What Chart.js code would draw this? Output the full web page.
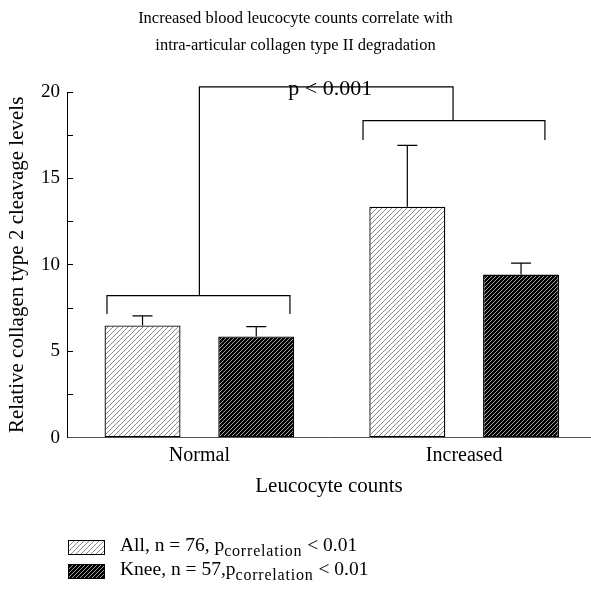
<!DOCTYPE html>
<html>
<head>
<meta charset="utf-8">
<script src="https://cdn.jsdelivr.net/npm/chart.js@4"></script>
<style>
body{margin:0;background:#fff;}
#wrap{position:relative;width:591px;height:592px;}
#legend{position:absolute;left:68px;top:535px;font-family:"Liberation Serif",serif;font-size:19.5px;color:#000;}
.row{display:flex;align-items:center;height:24px;white-space:nowrap;}
.row canvas{border:1px solid #000;margin-right:15px;}
sub{font-size:16px;letter-spacing:0.8px;}
</style>
</head>
<body>
<div id="wrap">
<canvas id="chart" width="591" height="592"></canvas>
<div id="legend">
  <div class="row"><canvas id="swAll" width="35" height="13"></canvas><span>All, n = 76, p<sub>correlation</sub> &lt; 0.01</span></div>
  <div class="row"><canvas id="swKnee" width="35" height="13"></canvas><span>Knee, n = 57,p<sub>correlation</sub> &lt; 0.01</span></div>
</div>
</div>
<script>
window.addEventListener("load", () => {

/* ========= DATA ========= */

const groups = ["Normal", "Increased"];
const allMeans = [6.5, 13.36];
const allErr = [0.55, 3.55];
const kneeMeans = [5.86, 9.44];
const kneeErr = [0.57, 0.66];

// significance brackets, [x, y] in axis units
const bracketNormal = [[-0.349, 7.16], [-0.349, 8.22], [0.342, 8.22], [0.342, 7.16]];
const bracketIncreased = [[0.618, 17.23], [0.618, 18.35], [1.305, 18.35], [1.305, 17.23]];
const bracketLink = [[0, 8.22], [0, 20.3], [0.958, 20.3], [0.958, 18.35]];
const pText = "p < 0.001";
const pPos = [0.494, 20.17];

const FONT = "'Liberation Serif', serif";

/* ========= PATTERNS ========= */

function hatch(bg, fg, size){
const c = document.createElement("canvas");
c.width = c.height = size;
const g = c.getContext("2d");
g.fillStyle = bg;
g.fillRect(0, 0, size, size);
g.strokeStyle = fg;
g.lineWidth = 1;
g.beginPath();
g.moveTo(0, size); g.lineTo(size, 0);
g.moveTo(-1, 1); g.lineTo(1, -1);
g.moveTo(size - 1, size + 1); g.lineTo(size + 1, size - 1);
g.stroke();
return g.createPattern(c, "repeat");
}

const lightHatch = hatch("#fff", "#8a8a8a", 5);
const darkHatch = hatch("#000", "#a0a0a0", 4);

function swatch(id, pat){
const c = document.getElementById(id).getContext("2d");
c.fillStyle = pat;
c.fillRect(0, 0, 35, 13);
}
swatch("swAll", hatch("#fff", "#8a8a8a", 5));
swatch("swKnee", hatch("#000", "#a0a0a0", 4));

/* ========= PLUGINS ========= */

const errorBars = {
id: "errorBars",
afterDatasetsDraw(chart){
const ctx = chart.ctx, y = chart.scales.y;
[[0, allMeans, allErr], [1, kneeMeans, kneeErr]].forEach(([di, m, e]) => {
chart.getDatasetMeta(di).data.forEach((bar, i) => {
const top = y.getPixelForValue(m[i] + e[i]);
ctx.save();
ctx.strokeStyle = "#000";
ctx.lineWidth = 1.2;
ctx.beginPath();
ctx.moveTo(bar.x, bar.y);
ctx.lineTo(bar.x, top);
ctx.moveTo(bar.x - 10, top);
ctx.lineTo(bar.x + 10, top);
ctx.stroke();
ctx.restore();
});
});
}
};

const pLabel = {
id: "pLabel",
afterDatasetsDraw(chart){
const ctx = chart.ctx;
ctx.save();
ctx.font = "22px " + FONT;
ctx.fillStyle = "#000";
ctx.textAlign = "center";
ctx.textBaseline = "middle";
ctx.fillText(pText, chart.scales.x.getPixelForValue(pPos[0]), chart.scales.y.getPixelForValue(pPos[1]));
ctx.restore();
}
};

/* ========= CHART ========= */

const bracket = pts => ({
type: "line",
data: pts.map(p => ({x: p[0], y: p[1]})),
borderColor: "#000",
borderWidth: 1.2,
pointRadius: 0,
tension: 0,
fill: false,
clip: false
});

new Chart(document.getElementById("chart"), {
type: "bar",
data: {
datasets: [
{
data: allMeans.map((v, i) => ({x: i, y: v})),
backgroundColor: lightHatch,
borderColor: "#000",
borderWidth: 1.3,
borderSkipped: false,
categoryPercentage: 0.859,
barPercentage: 0.668
},
{
data: kneeMeans.map((v, i) => ({x: i, y: v})),
backgroundColor: darkHatch,
borderColor: "#000",
borderWidth: 1.3,
borderSkipped: false,
categoryPercentage: 0.859,
barPercentage: 0.668
},
bracket(bracketNormal),
bracket(bracketIncreased),
bracket(bracketLink)
]
},
options: {
responsive: false,
animation: false,
layout: {padding: {left: 0, right: 0, top: 0, bottom: 93}},
plugins: {
legend: {display: false},
tooltip: {enabled: false},
title: {
display: true,
text: ["Increased blood leucocyte counts correlate with", "intra-articular collagen type II degradation"],
color: "#000",
font: {family: FONT, size: 16.5, weight: "normal", lineHeight: "27px"},
padding: {top: 5, bottom: 33}
}
},
scales: {
x: {
type: "linear",
offset: false,
min: -0.5,
max: 1.479,
afterBuildTicks: s => { s.ticks = [{value: 0}, {value: 1}]; },
ticks: {
autoSkip: false,
color: "#000",
font: {family: FONT, size: 20},
padding: 6,
callback: v => groups[v]
},
grid: {display: false, drawTicks: false, offset: false},
border: {color: "#555", width: 1},
title: {
display: true,
text: "Leucocyte counts",
color: "#000",
font: {family: FONT, size: 21},
padding: {top: 0, bottom: 0}
}
},
y: {
min: 0,
max: 20,
afterFit: s => { s.width = 67; },
ticks: {
stepSize: 2.5,
autoSkip: false,
color: "#000",
font: {family: FONT, size: 19},
padding: 13,
callback: v => (v % 5 === 0 ? v : "")
},
grid: {drawOnChartArea: false, drawTicks: true, tickLength: -6, color: "#000", lineWidth: 1},
border: {color: "#000", width: 1},
title: {
display: true,
text: "Relative collagen type 2 cleavage levels",
color: "#000",
font: {family: FONT, size: 21},
padding: {top: 5, bottom: 0}
}
}
}
},
plugins: [errorBars, pLabel]
});

});
</script>
</body>
</html>
